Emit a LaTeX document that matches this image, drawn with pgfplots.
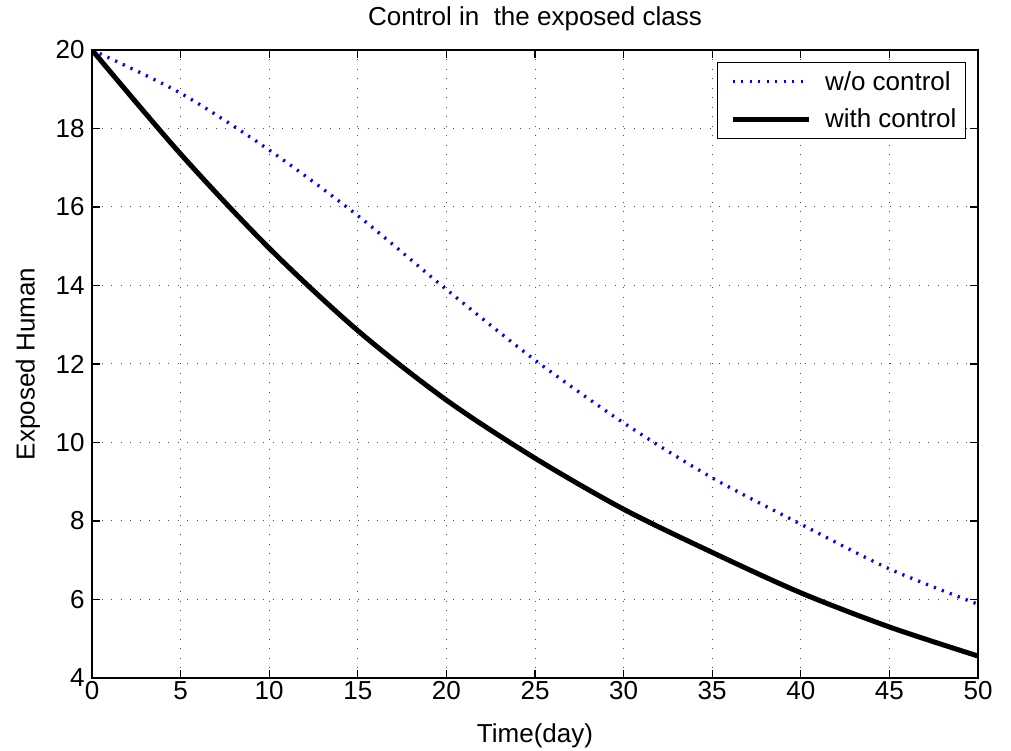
\documentclass[border=0pt]{standalone}
\usepackage{fontspec}
\setmainfont{Liberation Sans}
\usepackage{pgfplots}
\pgfplotsset{compat=1.18}

% values
\begin{document}
\begin{tikzpicture}[x=1pt,y=1pt]
\useasboundingbox (0,0) rectangle (1011,751);
\begin{axis}[
  at={(92pt,73pt)}, anchor=south west,
  scale only axis, width=886pt, height=628pt,
  xmin=0, xmax=50, ymin=4, ymax=20,
  xtick={0,5,...,50}, ytick={4,6,...,20},
  tick align=inside, major tick length=8pt,
  xtick pos=both, ytick pos=both,
  grid=major,
  major grid style={black!70, line width=1pt, dash pattern=on 1pt off 8.5pt},
  axis line style={line width=1.3pt},
  every tick/.style={black, line width=1.3pt},
  font=\fontsize{26}{30}\selectfont,
  /pgf/number format/assume math mode=true,
  yticklabel style={xshift=-4pt},
  title={Control in\ \ the exposed class},
  title style={at={(axis description cs:0.5,1)}, anchor=center, yshift=25pt},
  xlabel={Time(day)}, ylabel={Exposed Human},
  xlabel style={at={(axis description cs:0.5,0)}, anchor=north, inner sep=0pt, yshift=-45pt},
  ylabel style={at={(axis description cs:0,0.5)}, anchor=center, yshift=64pt},
  legend style={at={(1,1)}, anchor=north east, xshift=-12pt, yshift=-12pt,
    draw=black, line width=1pt, inner sep=7pt, row sep=13pt,
    font=\fontsize{26}{30}\selectfont},
  legend cell align=left,
  legend image code/.code={\path (-6pt,0pt) (88pt,0pt);
    \draw[#1] (0pt,0pt) -- (76pt,0pt);},
]
\addplot[blue, line width=3.3pt, dash pattern=on 2.2pt off 6.3pt, smooth] coordinates {
  (0,20)(5,18.9)(10,17.45)(15,15.78)(20,13.9)(25,12.1)
  (30,10.5)(35,9.1)(40,7.92)(45,6.78)(50,5.88)};
\addlegendentry{w/o control}
\addplot[black, line width=5pt, smooth] coordinates {
  (0,20)(5,17.35)(10,14.95)(15,12.85)(20,11.08)(25,9.6)
  (30,8.3)(35,7.2)(40,6.17)(45,5.3)(50,4.56)};
\addlegendentry{with control}
\end{axis}
\end{tikzpicture}
\end{document}
